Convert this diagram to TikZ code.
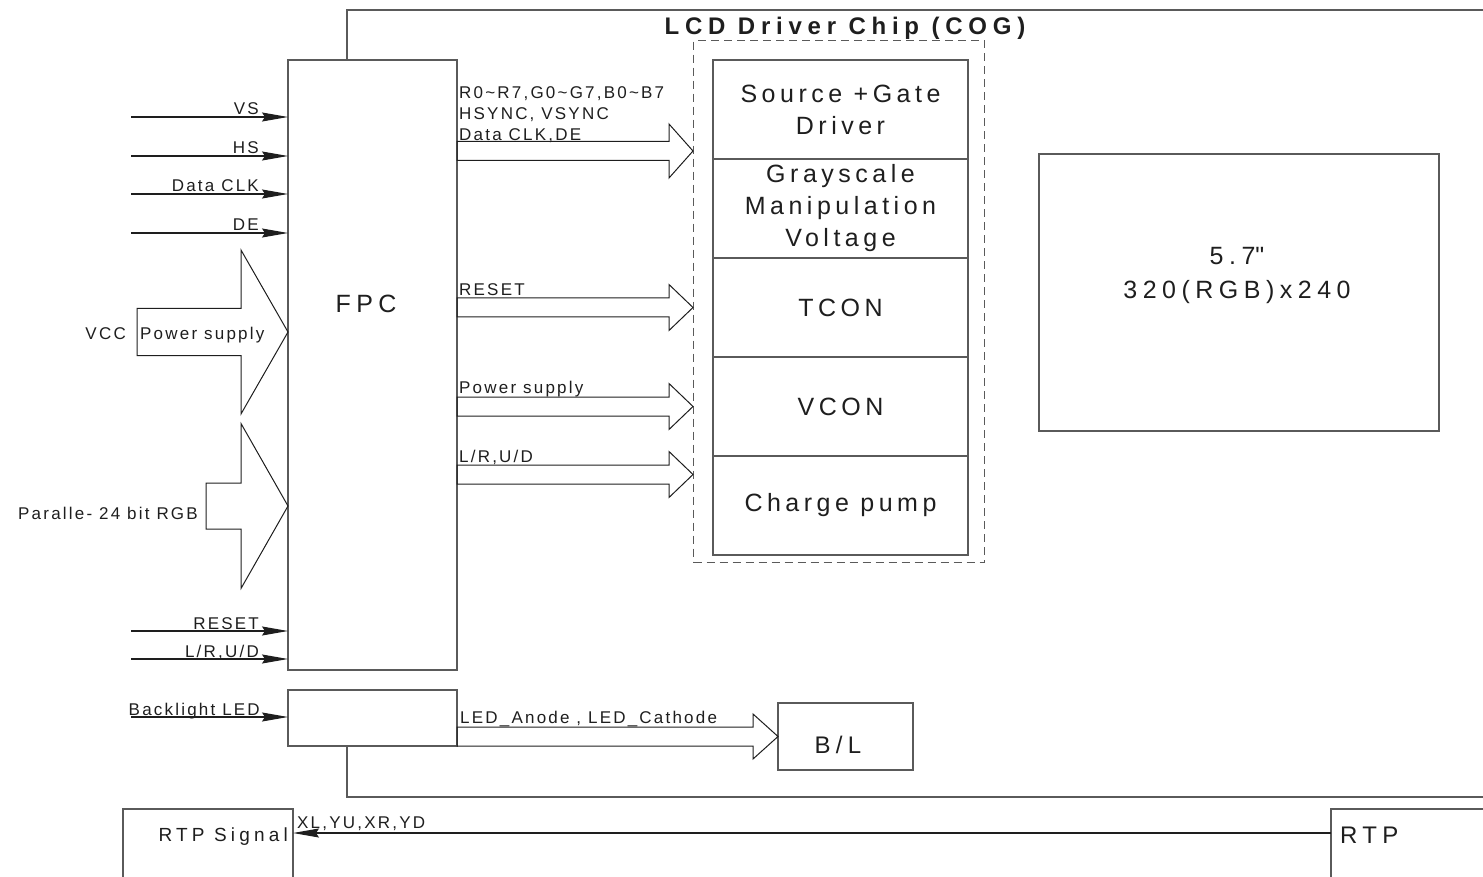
\documentclass[tikz,border=0pt]{standalone}
\usepackage{fontspec}
\setmainfont{Liberation Sans}
\newfontfamily\sigfont{Liberation Sans}[LetterSpace=13]
\newfontfamily\blkfont{Liberation Sans}[LetterSpace=18]
\newfontfamily\lcdfont{Liberation Sans}[LetterSpace=22]
\newfontfamily\ttlfont{Liberation Sans}[LetterSpace=24]
\usetikzlibrary{positioning,calc,arrows.meta}
\definecolor{boxgray}{HTML}{5A5A5A}
\definecolor{inkgray}{HTML}{1E1E1E}
\tikzset{
  box/.style = {draw=boxgray, line width=1.4pt, inner sep=0pt, outer sep=0pt},
  frame/.style = {draw=boxgray, line width=1.4pt},
  sig/.style = {draw=inkgray, line width=1.1pt, -{Stealth[length=26pt,width=9pt,inset=3pt]}},
  bus/.style = {draw=inkgray, line width=1pt, line join=miter},
  lbl/.style = {font=\sigfont\fontsize{17}{21}\selectfont, text=inkgray, inner sep=0pt},
  mid/.style = {font=\lcdfont\fontsize{19}{22}\selectfont, text=inkgray, inner sep=0pt},
  big/.style = {font=\lcdfont\fontsize{24}{28}\selectfont, text=inkgray, inner sep=0pt},
  blk/.style = {box, minimum width=255, minimum height=99, align=center,
                font=\blkfont\fontsize{25}{32}\selectfont, text=inkgray},
}
% hollow arrow: tail, tip, head length, half shaft, half head
\newcommand{\fatarrow}[5]{%
  \draw[bus] ($(#1)+(0,-#4)$) -- ($(#2)+(-#3,-#4)$) -- ($(#2)+(-#3,-#5)$) -- (#2)
    -- ($(#2)+(-#3,#5)$) -- ($(#2)+(-#3,#4)$) -- ($(#1)+(0,#4)$) -- cycle;}
\begin{document}
\begin{tikzpicture}[x=1pt,y=-1pt]
\clip (0,0) rectangle (1483,877);
% panel outline
\draw[frame] (347,60) |- (1483,10);
\draw[frame] (347,746) |- (1483,797);
\node[font=\ttlfont\bfseries\fontsize{24}{28}\selectfont, text=inkgray, inner sep=0pt, anchor=base] (title) at (845,35) {LCD Driver Chip (COG)};

% FPC and its inputs
\node[box, minimum width=169, minimum height=610, anchor=north west] (fpc) at (288,60) {};
\node[font=\lcdfont\fontsize{25}{28}\selectfont, text=inkgray] (fpclbl) at (366,304) {FPC};
\foreach \y/\t in {117/VS, 156/HS, 194/Data CLK, 233/DE, 631/RESET, 659/{L/R,U/D}} {
  \coordinate (in\y) at (131,\y);
  \draw[sig] (in\y) -- (fpc.west |- in\y);
  \node[lbl, anchor=base east] (lbl\y) at (259,\y-2) {\t};
}
\coordinate (vcc) at (137,332);
\fatarrow{vcc}{fpc.west |- vcc}{47}{23.5}{82}
\node[lbl, anchor=base west] (vcclbl) at (140,339) {Power supply};
\node[lbl, anchor=base east] (vccname) at (126,339) {VCC};
\coordinate (rgb) at (206,506);
\fatarrow{rgb}{fpc.west |- rgb}{47}{23}{82.5}
\node[lbl, anchor=base east] (rgblbl) at (198,519) {Paralle- 24 bit RGB};

% backlight
\node[box, minimum width=169, minimum height=56, anchor=north west] (bldrv) at (288,690) {};
\coordinate (blin) at (131,717);
\draw[sig] (blin) -- (bldrv.west |- blin);
\node[lbl, anchor=base east] (blinlbl) at (260,715) {Backlight LED};
\node[box, minimum width=135, minimum height=67, anchor=north west] (bl) at (778,703) {};
\node[big] (bltxt) at (838,745) {B/L};
\fatarrow{bldrv.east |- bl.west}{bl.west}{25}{9.5}{22.5}
\node[lbl, anchor=base west] (ledlbl) at (460,723) {LED\_Anode , LED\_Cathode};

% driver chip
\node[draw=boxgray, line width=1.2pt, dash pattern=on 8pt off 5pt, minimum width=291, minimum height=522, anchor=north west] (cog) at (693,40) {};
\node[blk, anchor=north west] (src) at (713,60) {Source +Gate\\Driver};
\node[blk, below=0pt of src] (gray) {Grayscale\\Manipulation\\Voltage};
\node[blk, below=0pt of gray] (tcon) {TCON};
\node[blk, below=0pt of tcon] (vcon) {VCON};
\node[blk, below=0pt of vcon] (pump) {Charge pump};
\foreach \n/\y/\h in {1/151/27, 2/307.5/23, 3/406.5/23, 4/474.5/23} {
  \coordinate (bus\n) at (0,\y);
  \fatarrow{fpc.east |- bus\n}{cog.west |- bus\n}{24}{9.5}{\h}
}
\node[lbl, anchor=north west, align=left] (datalbl) at (459,86) {R0\textasciitilde R7,G0\textasciitilde G7,B0\textasciitilde B7\\HSYNC, VSYNC\\Data CLK,DE};
\node[lbl, anchor=base west] (rstlbl) at (459,296) {RESET};
\node[lbl, anchor=base west] (pwrlbl) at (459,393) {Power supply};
\node[lbl, anchor=base west] (lrlbl) at (459,462) {L/R,U/D};

% panel
\node[box, minimum width=400, minimum height=277, anchor=north west] (lcd) at (1039,154) {};
\node[font=\lcdfont\fontsize{25}{34}\selectfont, text=inkgray, align=center] (lcdtxt) at (1237,275) {5.7\textquotedbl\\320(RGB)x240};

% touch panel
\node[box, minimum width=170, minimum height=100, anchor=north west] (rtpsig) at (123,809) {};
\node[mid, anchor=base east] (rtpsiglbl) at (288,841) {RTP Signal};
\node[box, minimum width=200, minimum height=100, anchor=north west] (rtp) at (1331,809) {};
\node[big, anchor=base west] (rtplbl) at (1340,843) {RTP};
\coordinate (rtpy) at (0,833);
\draw[sig] (rtp.west |- rtpy) -- (rtpsig.east |- rtpy);
\node[lbl, anchor=base west] (xylbl) at (297,828) {XL,YU,XR,YD};
\end{tikzpicture}
\end{document}
